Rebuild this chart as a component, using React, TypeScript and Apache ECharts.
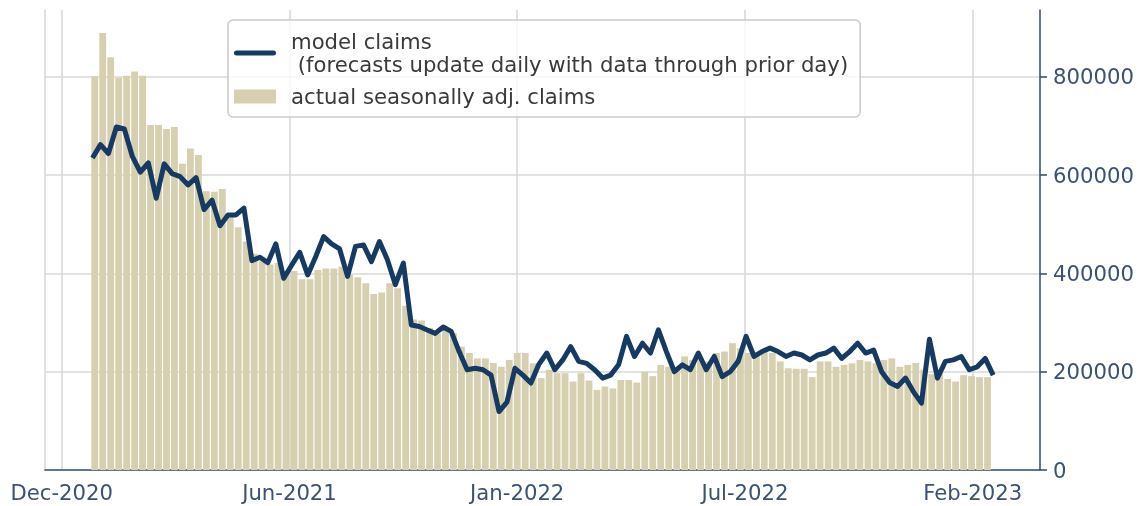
import React, { useEffect, useRef } from 'react';
import * as echarts from 'echarts';

// x axis: days since 1970-01-01
const tickDays = [18600, 18800, 19000, 19200, 19400];
const tickLabels = ['Dec-2020', 'Jun-2021', 'Jan-2022', 'Jul-2022', 'Feb-2023'];
const yTicks = [0, 200000, 400000, 600000, 800000];

const firstBarDay = 18629; // week ending 2021-01-02
const firstLineDay = 18627; // model value dated two days earlier
const weekDays = 7;

// actual seasonally adjusted claims (thousands), weekly
const actualClaims = [
  801, 889, 840, 798, 802, 811, 802, 702, 702, 694,
  698, 623, 654, 641, 567, 566, 572, 515, 494, 465,
  440, 425, 418, 421, 404, 405, 388, 388, 407, 410,
  410, 414, 397, 392, 380, 358, 361, 380, 370, 334,
  306, 304, 289, 278, 285, 279, 251, 238, 227, 227,
  218, 210, 224, 238, 238, 217, 187, 204, 197, 197,
  180, 197, 182, 163, 170, 166, 183, 183, 178, 200,
  191, 214, 210, 210, 231, 224, 227, 221, 238, 241,
  258, 248, 238, 238, 241, 238, 221, 207, 206, 206,
  189, 221, 221, 210, 214, 217, 224, 221, 217, 224,
  227, 210, 214, 218, 204, 195, 197, 185, 180, 193,
  191, 189, 189,
];

// model claims (thousands), weekly
const modelClaims = [
  635, 662, 644, 698, 694, 638, 606, 625, 553, 623,
  603, 597, 580, 595, 530, 549, 497, 519, 519, 533,
  426, 433, 422, 460, 390, 417, 443, 397, 434, 475,
  460, 450, 394, 455, 458, 424, 465, 428, 377, 421,
  295, 292, 285, 278, 291, 282, 241, 204, 207, 204,
  193, 119, 138, 207, 193, 177, 215, 238, 204, 224,
  251, 221, 217, 204, 187, 193, 214, 272, 231, 258,
  238, 285, 241, 200, 214, 204, 238, 204, 231, 190,
  200, 221, 272, 231, 241, 248, 241, 231, 238, 234,
  224, 234, 238, 248, 227, 241, 258, 238, 244, 200,
  178, 170, 187, 159, 136, 266, 187, 221, 224, 231,
  204, 210, 227, 193,
];

const LINE_NAME = 'model claims';
const LINE_LABEL = 'model claims\n (forecasts update daily with data through prior day)';
const BAR_NAME = 'actual seasonally adj. claims';

const FONT = 'DejaVu Sans';
const FONT_SIZE = 21.2;
const AXIS_COLOR = '#3a5377';
const LABEL_COLOR = '#3b5275';
const GRID_COLOR = '#d9d9d9';
const LINE_COLOR = '#173a63';
const BAR_COLOR = '#d6cfb0';

export default function App() {
  const ref = useRef<HTMLDivElement>(null);

  useEffect(() => {
    if (!ref.current) return;
    const chart = echarts.init(ref.current, undefined, { renderer: 'svg' });

    const barData = actualClaims.map((v, i) => [firstBarDay + i * weekDays, v * 1000]);
    const lineData = modelClaims.map((v, i) => [firstLineDay + i * weekDays, v * 1000]);

    const option: any = {
      animation: false,
      grid: { left: 45, right: 103, top: 10, bottom: 36, containLabel: false },
      xAxis: {
        type: 'value',
        min: 18585.3,
        max: 19459.1,
        axisLine: { show: true, lineStyle: { color: AXIS_COLOR, width: 1.6 } },
        axisTick: { show: false, customValues: tickDays },
        axisLabel: {
          customValues: tickDays,
          formatter: (v: number) => {
            const idx = tickDays.indexOf(Math.round(v));
            return idx >= 0 ? tickLabels[idx] : '';
          },
          color: LABEL_COLOR,
          fontSize: FONT_SIZE,
          fontFamily: FONT,
          margin: 12,
        },
        splitLine: { show: true, lineStyle: { color: GRID_COLOR, width: 1.6 } },
      },
      yAxis: [
        {
          type: 'value',
          position: 'right',
          min: 0,
          max: 936000,
          axisLine: { show: true, lineStyle: { color: AXIS_COLOR, width: 1.6 } },
          axisTick: { show: true, length: 7, customValues: yTicks, lineStyle: { color: AXIS_COLOR, width: 1.6 } },
          axisLabel: {
            customValues: yTicks,
            color: LABEL_COLOR,
            fontSize: FONT_SIZE,
            fontFamily: FONT,
            margin: 13,
            formatter: (v: number) => String(Math.round(v)),
          },
          splitLine: { show: true, lineStyle: { color: GRID_COLOR, width: 1.6 } },
        },
        {
          type: 'value',
          position: 'left',
          min: 0,
          max: 936000,
          axisLine: { show: true, lineStyle: { color: GRID_COLOR, width: 1.6 } },
          axisTick: { show: false },
          axisLabel: { show: false },
          splitLine: { show: false },
        },
      ],
      legend: {
        left: 228,
        top: 20,
        orient: 'vertical',
        padding: [10, 12, 9, 6],
        itemGap: 9,
        itemWidth: 42,
        itemHeight: 14,
        symbolKeepAspect: true,
        backgroundColor: 'rgba(255,255,255,0.8)',
        borderColor: '#cccccc',
        borderWidth: 1.6,
        borderRadius: 5,
        selectedMode: false,
        data: [
          {
            name: LINE_NAME,
            icon: 'path://M2.5,0H39.5A2.5,2.5,0,0,1,39.5,5H2.5A2.5,2.5,0,0,1,2.5,0Z',
            itemStyle: { color: LINE_COLOR },
          },
          { name: BAR_NAME, icon: 'rect', itemStyle: { color: BAR_COLOR } },
        ],
        formatter: (name: string) => (name === LINE_NAME ? LINE_LABEL : name),
        textStyle: {
          fontSize: FONT_SIZE,
          fontFamily: FONT,
          color: '#3a3a3a',
          lineHeight: 23,
          padding: [0, 0, 0, 10],
        },
      },
      series: [
        {
          name: BAR_NAME,
          type: 'bar',
          yAxisIndex: 0,
          data: barData,
          barWidth: 6.8,
          itemStyle: { color: BAR_COLOR },
          z: 2,
        },
        {
          name: LINE_NAME,
          type: 'line',
          yAxisIndex: 0,
          data: lineData,
          symbol: 'none',
          showSymbol: false,
          lineStyle: { color: LINE_COLOR, width: 5, join: 'round', cap: 'butt' },
          itemStyle: { color: LINE_COLOR },
          z: 3,
        },
      ],
    };

    chart.setOption(option);
    return () => chart.dispose();
  }, []);

  return (
    <div
      ref={ref}
      style={{ position: 'fixed', left: 0, top: 0, width: 1143, height: 506 }}
    />
  );
}
